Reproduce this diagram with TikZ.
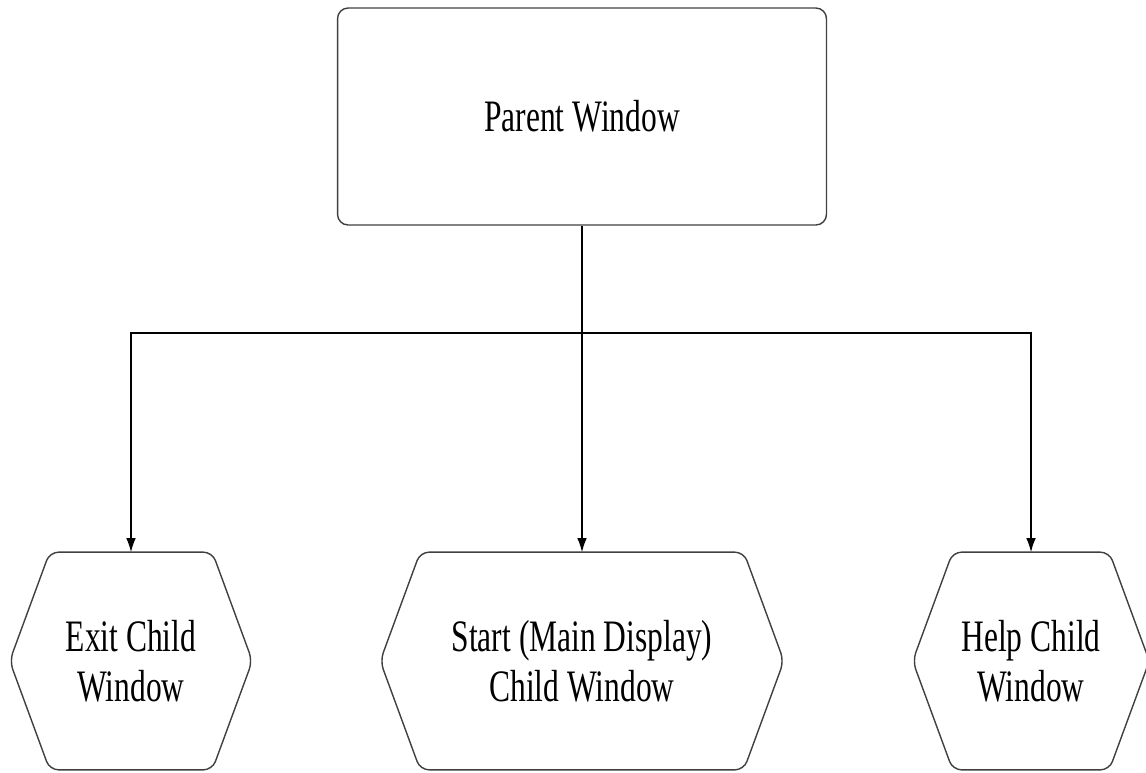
\documentclass[tikz,border=0pt]{standalone}
\usepackage{fontspec}
\setmainfont{Liberation Serif}[FakeStretch=0.7]
\usetikzlibrary{calc,arrows.meta}

\tikzset{
  winline/.style={draw=black!75, line width=0.8pt},
  winbox/.style={winline, rounded corners=6pt,
    minimum width=9.78cm, minimum height=4.34cm, align=center,
    font=\fontsize{25.6}{28.5}\selectfont},
  childwin/.style={minimum width=#1, minimum height=4.34cm, inner sep=0pt,
    align=center, font=\fontsize{25.6}{28.5}\selectfont,
    append after command={\pgfextra{
      \draw[winline, rounded corners=5pt]
        ($(\tikzlastnode.north west)+(0.8cm,0)$) -- ($(\tikzlastnode.north east)-(0.8cm,0)$)
        -- (\tikzlastnode.east) -- ($(\tikzlastnode.south east)-(0.8cm,0)$)
        -- ($(\tikzlastnode.south west)+(0.8cm,0)$) -- (\tikzlastnode.west) -- cycle;
    }}},
  link/.style={line width=0.8pt, -{Latex[length=8pt,width=5.5pt]}}
}

\begin{document}
\begin{tikzpicture}[x=0.02cm, y=-0.02cm]
		\useasboundingbox (0,0) rectangle (1146,772);
		
		% Parent
		\node[winbox] (parent) at (582,116.5) {Parent Window};
		
		% Children
		\node[childwin=4.84cm] (exitwin) at (131,661) {Exit Child\\Window};
		\node[childwin=8.06cm] (startwin) at (582,661) {Start (Main Display)\\Child Window};
		\node[childwin=4.72cm] (helpwin) at (1031,661) {Help Child\\Window};
		
		% Connectors
		\coordinate (split) at (582,333);
		\draw[line width=0.8pt] (parent.south) -- (split);
		\draw[link] (split) -| (exitwin.north);
		\draw[link] (split) -- (startwin.north);
		\draw[link] (split) -| (helpwin.north);
	\end{tikzpicture}
\end{document}
